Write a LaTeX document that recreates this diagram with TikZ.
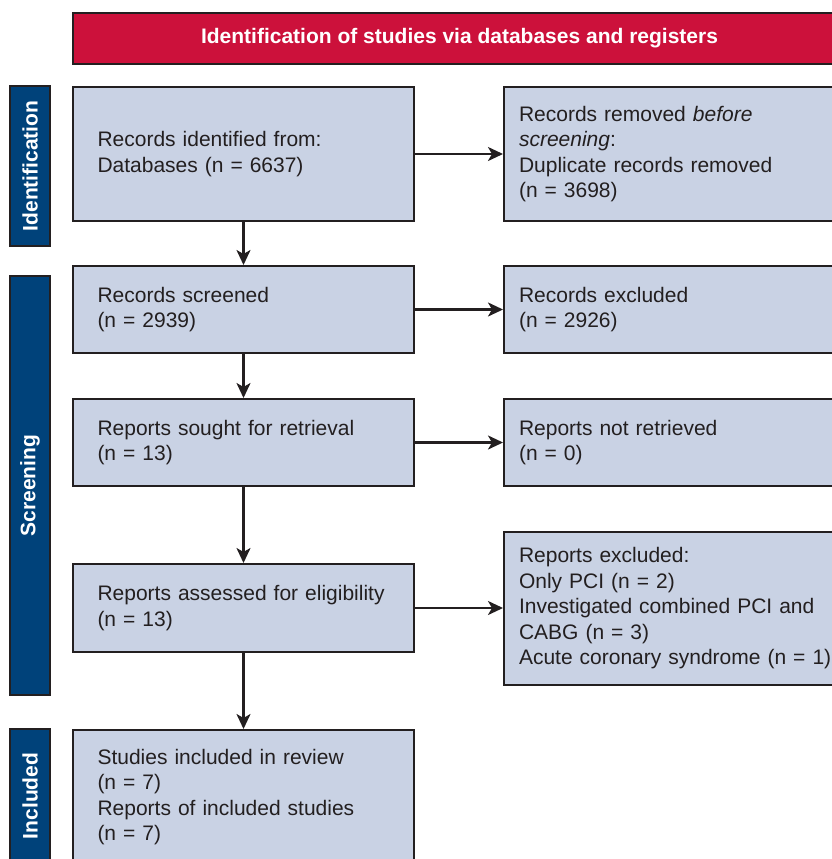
\documentclass[tikz,border=0pt]{standalone}
\usepackage{fontspec}
\setmainfont{Liberation Sans}
\usetikzlibrary{arrows.meta}
\definecolor{boxfill}{HTML}{C9D2E4}
\definecolor{bannerred}{HTML}{CC113B}
\definecolor{phaseblue}{HTML}{00427A}
\definecolor{edge}{HTML}{231F20}
\tikzset{
  txt/.style={font=\fontsize{21pt}{25.5pt}\selectfont},
  leftbox/.style={txt, draw=edge, line width=2pt, fill=boxfill, anchor=north west,
    align=left, text width=292pt, inner xsep=24.5pt, inner ysep=0pt, text=edge},
  rightbox/.style={txt, draw=edge, line width=2pt, fill=boxfill, anchor=north west,
    align=left, text width=330pt, inner xsep=15pt, inner ysep=0pt, text=edge},
  banner/.style={font=\fontsize{21pt}{25.5pt}\selectfont\bfseries, draw=edge, line width=2pt,
    fill=bannerred, text=white, anchor=north west, minimum width=773pt, minimum height=51pt,
    inner sep=0pt},
  phase/.style={font=\fontsize{21pt}{25.5pt}\selectfont\bfseries, draw=edge, line width=2pt,
    fill=phaseblue, text=white, rotate=90, minimum height=40pt, inner sep=0pt},
  arr/.style={draw=edge, line width=2.2pt, -{Stealth[length=15pt,width=14pt,inset=4pt]}}
}
\begin{document}
\begin{tikzpicture}[x=1pt,y=-1pt]
\useasboundingbox (0,0) rectangle (832,859);
\clip (0,0) rectangle (832,859);
\node[banner] (ban) at (72,12) {\raisebox{-2pt}{Identification of studies via databases and registers}};
\node[phase, minimum width=160pt] (pid) at (30,166) {Identification};
\node[phase, minimum width=419pt] (psc) at (30,485.5) {Screening};
\node[phase, minimum width=134pt] (pin) at (30,796) {Included};

\node[leftbox, minimum height=134pt] (b1) at (72,86) {Records identified from:\\Databases (n = 6637)};
\node[rightbox, minimum height=134pt] (r1) at (503,86) {Records removed \textit{before}\\\textit{screening}:\\Duplicate records removed\\(n = 3698)};

\node[leftbox, minimum height=87pt] (b2) at (72,265) {Records screened\\(n = 2939)};
\node[rightbox, minimum height=87pt] (r2) at (503,265) {Records excluded\\(n = 2926)};

\node[leftbox, minimum height=87pt] (b3) at (72,398) {Reports sought for retrieval\\(n = 13)};
\node[rightbox, minimum height=87pt] (r3) at (503,398) {Reports not retrieved\\(n = 0)};

\node[leftbox, minimum height=88pt] (b4) at (72,563) {Reports assessed for eligibility\\(n = 13)};
\node[rightbox, minimum height=153pt] (r4) at (503,531) {Reports excluded:\\Only PCI (n = 2)\\Investigated combined PCI and\\CABG (n = 3)\\Acute coronary syndrome (n = 1)};

\node[leftbox, minimum height=134pt] (b5) at (72,729) {Studies included in review\\(n = 7)\\Reports of included studies\\(n = 7)};

\draw[arr] (b1.east) -- (r1.west);
\draw[arr] (b2.east) -- (r2.west);
\draw[arr] (b3.east) -- (r3.west);
\draw[arr] (b4.east) -- (b4.east -| r4.west);
\draw[arr] (b1.south) -- (b2.north);
\draw[arr] (b2.south) -- (b3.north);
\draw[arr] (b3.south) -- (b4.north);
\draw[arr] (b4.south) -- (b5.north);
\end{tikzpicture}
\end{document}
